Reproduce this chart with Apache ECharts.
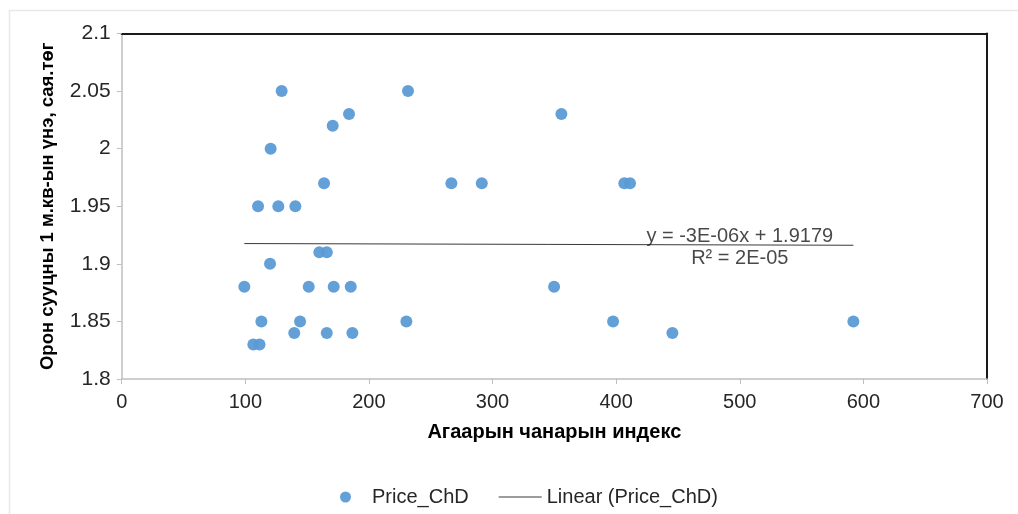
<!DOCTYPE html>
<html>
<head>
<meta charset="utf-8">
<script src="https://cdn.jsdelivr.net/npm/echarts@6/dist/echarts.min.js"></script>
<style>
  html, body { margin: 0; padding: 0; background: #fff; }
  #chart { width: 1018px; height: 514px; }
</style>
</head>
<body>
<div id="chart"></div>
<script>
// Air quality index vs. apartment price per m² (million ₮)
const aqi = [99.2, 106.5, 111.5, 113, 110.3, 120, 120.5, 126.7, 129.4, 139.6, 140.5,
  144.3, 151.3, 159.9, 163.7, 165.9, 165.9, 170.7, 171.5, 183.9, 185.3, 186.6,
  230.3, 231.6, 266.7, 291.3, 349.8, 355.7, 397.5, 406.6, 411.2, 445.5, 591.9];
const price = [1.88, 1.83, 1.83, 1.85, 1.95, 1.90, 2.00, 1.95, 2.05, 1.84, 1.95,
  1.85, 1.88, 1.91, 1.97, 1.91, 1.84, 2.02, 1.88, 2.03, 1.88, 1.84,
  1.85, 2.05, 1.97, 1.97, 1.88, 2.03, 1.85, 1.97, 1.97, 1.84, 1.85];

// Linear trend as reported in the equation label
const trendSlope = -3e-6;
const trendIntercept = 1.9179;
const trendEquation = 'y = -3E-06x + 1.9179';
const trendR2 = 'R² = 2E-05';
const trendLabelAt = [500, 1.9138];

const seriesName = 'Price_ChD';
const trendName = 'Linear (Price_ChD)';
const xTitle = 'Агаарын чанарын индекс';
const yTitle = 'Орон сууцны 1 м.кв-ын үнэ, сая.төг';

const points = aqi.map((x, i) => [x, price[i]]);
const xMin = Math.min(...aqi), xMax = Math.max(...aqi);
const trendLine = [xMin, xMax].map(x => [x, trendSlope * x + trendIntercept]);

const FONT = '"Liberation Sans", Arial, sans-serif';
const chart = echarts.init(document.getElementById('chart'), null, { renderer: 'canvas' });

chart.setOption({
  animation: false,
  backgroundColor: '#fff',
  textStyle: { fontFamily: FONT },
  graphic: [{
    type: 'rect', silent: true, z: -10,
    shape: { x: 9.5, y: 10.5, width: 1030, height: 530 },
    style: { fill: 'none', stroke: '#e8e8e8', lineWidth: 1.5 }
  }],
  grid: { left: 121.7, right: 31, top: 33.5, bottom: 135 },
  xAxis: [{
    type: 'value', min: 0, max: 700, interval: 100,
    name: xTitle, nameLocation: 'middle', nameGap: 43,
    nameTextStyle: { fontFamily: FONT, fontSize: 20, fontWeight: 'bold', color: '#000' },
    axisLine: { show: true, onZero: false, lineStyle: { color: '#bfbfbf', width: 1.5 } },
    axisTick: { show: true, length: 5, lineStyle: { color: '#bfbfbf', width: 1 } },
    axisLabel: { fontFamily: FONT, fontSize: 20, color: '#262626', margin: 13 },
    splitLine: { show: false }
  }, {
    type: 'value', position: 'top', min: 0, max: 700,
    axisLine: { show: true, onZero: false, lineStyle: { color: '#1a1a1a', width: 2 } },
    axisTick: { show: false }, axisLabel: { show: false }, splitLine: { show: false }
  }],
  yAxis: [{
    type: 'value', min: 1.8, max: 2.1, interval: 0.05,
    name: yTitle, nameLocation: 'middle', nameGap: 64, nameRotate: 90,
    nameTextStyle: { fontFamily: FONT, fontSize: 18.5, fontWeight: 'bold', color: '#000' },
    axisLine: { show: true, onZero: false, lineStyle: { color: '#bfbfbf', width: 1.5 } },
    axisTick: { show: true, length: 5, lineStyle: { color: '#bfbfbf', width: 1 } },
    axisLabel: { fontFamily: FONT, fontSize: 21, color: '#262626', margin: 11 },
    splitLine: { show: false }
  }, {
    type: 'value', position: 'right', min: 1.8, max: 2.1,
    axisLine: { show: true, onZero: false, lineStyle: { color: '#1a1a1a', width: 2 } },
    axisTick: { show: false }, axisLabel: { show: false }, splitLine: { show: false }
  }],
  legend: {
    left: 335, top: 482,
    itemWidth: 43, itemHeight: 11, itemGap: 30,
    textStyle: { fontFamily: FONT, fontSize: 20, color: '#262626' },
    data: [
      { name: seriesName, icon: 'circle' },
      { name: trendName, icon: 'path://M0,0H100V2H0Z', itemStyle: { color: '#3a3a3a' } }
    ]
  },
  series: [{
    name: seriesName, type: 'scatter', data: points,
    symbol: 'circle', symbolSize: 12,
    itemStyle: { color: '#5b9bd5', opacity: 0.95 },
    z: 3
  }, {
    name: trendName, type: 'line', data: trendLine,
    symbol: 'none', showSymbol: false,
    lineStyle: { color: '#3a3a3a', width: 1 },
    itemStyle: { color: '#3a3a3a' },
    z: 2
  }, {
    name: 'trendLabel', type: 'scatter', data: [trendLabelAt],
    symbolSize: 0, silent: true, z: 4,
    label: {
      show: true, position: 'inside',
      formatter: trendEquation + '\n' + trendR2,
      fontFamily: FONT, fontSize: 20, color: '#1a1a1a', lineHeight: 22
    }
  }]
});
</script>
</body>
</html>
